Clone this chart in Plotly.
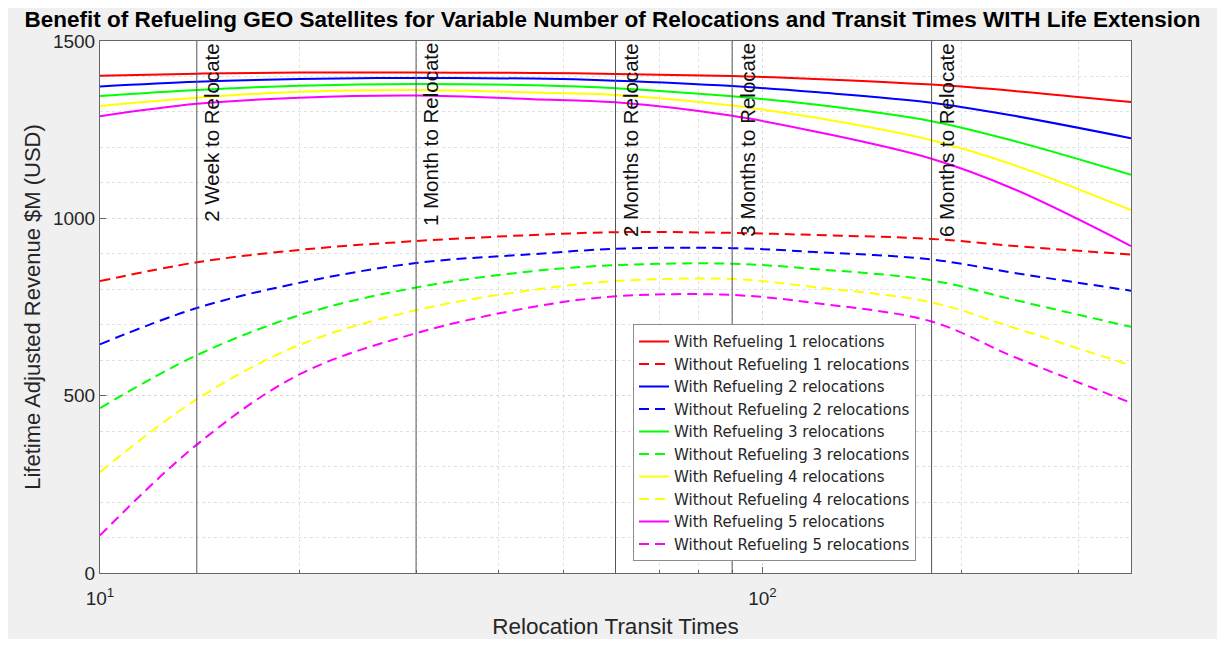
import plotly.graph_objects as go
import math

transit_days = [10, 14, 20, 30, 45, 60, 90, 120, 180, 240, 360]

with_refuel = {
    1: [1402, 1408, 1411, 1411, 1410, 1407, 1401, 1393, 1377, 1359, 1328],
    2: [1372, 1385, 1393, 1396, 1394, 1388, 1373, 1356, 1326, 1289, 1226],
    3: [1345, 1362, 1374, 1379, 1375, 1367, 1344, 1321, 1274, 1218, 1123],
    4: [1317, 1340, 1357, 1362, 1355, 1348, 1318, 1284, 1220, 1150, 1023],
    5: [1288, 1323, 1340, 1346, 1336, 1327, 1289, 1245, 1168, 1082, 922],
}
without_refuel = {
    1: [823, 876, 911, 936, 953, 961, 959, 953, 942, 922, 898],
    2: [645, 747, 818, 874, 899, 914, 916, 905, 884, 846, 796],
    3: [465, 614, 727, 805, 851, 868, 872, 857, 825, 770, 694],
    4: [285, 490, 643, 741, 798, 823, 829, 806, 763, 691, 585],
    5: [106, 362, 560, 676, 750, 780, 784, 761, 709, 609, 480],
}
colors = {1: "#ff0000", 2: "#0000ff", 3: "#00ff00", 4: "#ffff00", 5: "#ff00ff"}

marker_days = [14, 30, 60, 90, 180]
marker_labels = ["2 Week to Relocate", "1 Month to Relocate", "2 Months to Relocate",
                 "3 Months to Relocate", "6 Months to Relocate"]

title_text = "Benefit of Refueling GEO Satellites for Variable Number of Relocations and Transit Times WITH Life Extension"
x_title = "Relocation Transit Times"
y_title = "Lifetime Adjusted Revenue $M (USD)"

FONT = "Liberation Sans, Arial, sans-serif"

fig = go.Figure()
for n in range(1, 6):
    fig.add_trace(go.Scatter(
        x=transit_days, y=with_refuel[n], mode="lines",
        line=dict(color=colors[n], width=2, shape="spline"),
        name=f"With Refueling {n} relocations", legendgroup=f"w{n}"))
    fig.add_trace(go.Scatter(
        x=transit_days, y=without_refuel[n], mode="lines",
        line=dict(color=colors[n], width=2, dash="10px,6px", shape="spline"),
        name=f"Without Refueling {n} relocations", legendgroup=f"wo{n}"))

for d, lab in zip(marker_days, marker_labels):
    fig.add_shape(type="line", xref="x", yref="paper", x0=d, x1=d, y0=0, y1=1,
                  line=dict(color="#555555", width=1), layer="above")
    fig.add_annotation(x=math.log10(d), y=1, xref="x", yref="paper",
                       text=lab, textangle=-90, showarrow=False,
                       xanchor="left", yanchor="top", xshift=1, yshift=0,
                       font=dict(family=FONT, size=20.5, color="#111111"))

fig.update_layout(
    width=1209, height=631,
    margin=dict(l=92, r=86, t=33, b=66),
    paper_bgcolor="#f0f0f0", plot_bgcolor="#ffffff",
    title=dict(text=f"<b>{title_text}</b>", x=0.5, xanchor="center", y=0.982, yanchor="middle",
               font=dict(family=FONT, size=22.5, color="#000000")),
    font=dict(family=FONT, color="#262626"),
    showlegend=True,
    legend=dict(x=0.517, y=0.022, xanchor="left", yanchor="bottom",
                bgcolor="#ffffff", bordercolor="#8c8c8c", borderwidth=1,
                font=dict(family="DejaVu Sans, sans-serif", size=15, color="#262626"),
                traceorder="grouped", tracegroupgap=0),
)
fig.update_xaxes(
    type="log", range=[1, math.log10(360)], automargin=False,
    tickvals=[10, 100], ticktext=["10<sup>1</sup>", "10<sup>2</sup>"],
    ticks="inside", ticklen=6, tickcolor="#666666", ticklabelstandoff=8,
    showline=True, linecolor="#666666", linewidth=1, mirror=True,
    showgrid=True, gridcolor="#d8d8d8", griddash="dot",
    tickfont=dict(family=FONT, size=19, color="#262626"),
    title=dict(text=x_title, font=dict(family=FONT, size=22.5, color="#262626"), standoff=10),
    minor=dict(tickvals=[20, 30, 40, 50, 60, 70, 80, 90, 200, 300],
               ticks="inside", ticklen=3, tickcolor="#666666",
               showgrid=True, gridcolor="#e0e0e0", griddash="dot"),
    zeroline=False,
)
fig.update_yaxes(
    range=[0, 1500], tickvals=[0, 500, 1000, 1500], automargin=False,
    ticks="inside", ticklen=6, tickcolor="#666666",
    showline=True, linecolor="#666666", linewidth=1, mirror=True,
    showgrid=True, gridcolor="#d8d8d8", griddash="dot",
    tickfont=dict(family=FONT, size=19, color="#262626"),
    title=dict(text=y_title, font=dict(family=FONT, size=22, color="#262626"), standoff=6),
    minor=dict(dtick=100, ticks="", showgrid=True, gridcolor="#e0e0e0", griddash="dot"),
    zeroline=False,
)

fig.write_html("out.html")
